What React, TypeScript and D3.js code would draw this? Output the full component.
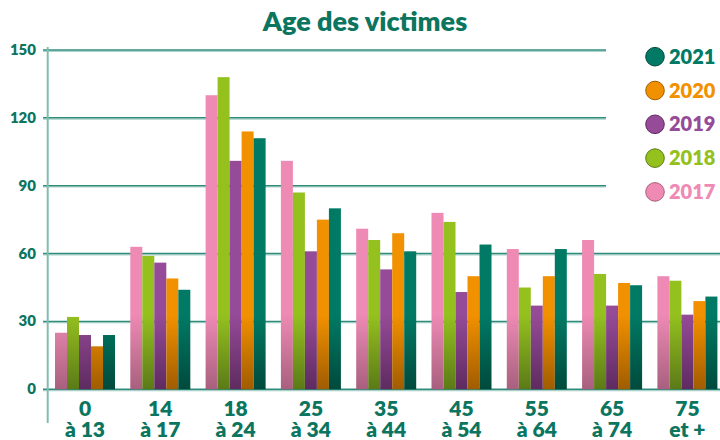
import React from "react";
import * as d3 from "d3";

const categories = ["0|à 13", "14|à 17", "18|à 24", "25|à 34", "35|à 44", "45|à 54", "55|à 64", "65|à 74", "75|et +"];
const years = ["2017", "2018", "2019", "2020", "2021"];
const v2017 = [25, 63, 130, 101, 71, 78, 62, 66, 50];
const v2018 = [32, 59, 138, 87, 66, 74, 45, 51, 48];
const v2019 = [24, 56, 101, 61, 53, 43, 37, 37, 33];
const v2020 = [19, 49, 114, 75, 69, 50, 50, 47, 39];
const v2021 = [24, 44, 111, 80, 61, 64, 62, 46, 41];
const yTicks = [0, 30, 60, 90, 120, 150];
const legendOrder = ["2021", "2020", "2019", "2018", "2017"];

const seriesValues: Record<string, number[]> = { "2017": v2017, "2018": v2018, "2019": v2019, "2020": v2020, "2021": v2021 };
const colors: Record<string, string> = { "2017": "#EE8AB4", "2018": "#95C11F", "2019": "#954B97", "2020": "#F29100", "2021": "#007A64" };
const darks: Record<string, string> = { "2017": "#a8607e", "2018": "#5b7a17", "2019": "#5e2b60", "2020": "#a05c00", "2021": "#004a3c" };
const TEXT = "#0b7560";

export default function App() {
  const W = 720, H = 440;
  const y = d3.scaleLinear().domain([0, 150]).range([389.3, 50]);
  const x = d3.scaleBand<string>().domain(categories).range([55, 717.4]).paddingInner(0.203).paddingOuter(0);
  const xi = d3.scaleBand<string>().domain(years).range([0, x.bandwidth()]).padding(0);
  const font = "Lato, 'Open Sans', sans-serif";
  return (
    <svg width={W} height={H} style={{ position: "absolute", left: 0, top: 0, background: "#fff" }} fontFamily={font}>
      <defs>
        {years.map((yr) => (
          <linearGradient key={yr} id={"g" + yr} gradientUnits="userSpaceOnUse" x1="0" y1={y(33)} x2="0" y2={y(0)}>
            <stop offset="0" stopColor={colors[yr]} />
            <stop offset="1" stopColor={darks[yr]} />
          </linearGradient>
        ))}
      </defs>
      <text x={365} y={31} textAnchor="middle" fontSize={27} fontWeight={800} fill={TEXT}>Age des victimes</text>
      {yTicks.map((t) => {
        const yy = y(t);
        const x2 = t >= 90 ? 606 : 720;
        return (
          <g key={t}>
            <line x1={43} x2={x2} y1={yy + 1.3} y2={yy + 1.3} stroke="#a9d1c9" strokeWidth={1.2} />
            <line x1={43} x2={x2} y1={yy} y2={yy} stroke="#2f8c7b" strokeWidth={1.5} />
            <text x={36} y={yy + 5} textAnchor="end" fontSize={15} fontWeight={800} fill={TEXT}>{t}</text>
          </g>
        );
      })}
      {categories.map((c, i) => (
        <g key={c}>
          {years.map((yr) => {
            const v = seriesValues[yr][i];
            return (
              <rect key={yr} x={(x(c) as number) + (xi(yr) as number)} y={y(v)} width={xi.bandwidth()} height={y(0) - y(v)} fill={`url(#g${yr})`} />
            );
          })}
        </g>
      ))}
      <line x1={47.7} x2={47.7} y1={47} y2={423} stroke="#7fbdb1" strokeWidth={2} />
      {categories.map((c) => {
        const [a, b] = c.split("|");
        const cx = (x(c) as number) + x.bandwidth() / 2;
        return (
          <text key={c} x={cx} textAnchor="middle" fontSize={21} fontWeight={800} fill={TEXT}>
            <tspan x={cx} y={416}>{a}</tspan>
            <tspan x={cx} y={437}>{b}</tspan>
          </text>
        );
      })}
      {legendOrder.map((yr, i) => {
        const cy = 56.7 + i * 33.8;
        return (
          <g key={yr}>
            <circle cx={655} cy={cy} r={9.3} fill={colors[yr]} stroke={darks[yr]} strokeWidth={1} />
            <text x={669} y={cy + 7} fontSize={20} fontWeight={800} fill={colors[yr]}>{yr}</text>
          </g>
        );
      })}
    </svg>
  );
}
